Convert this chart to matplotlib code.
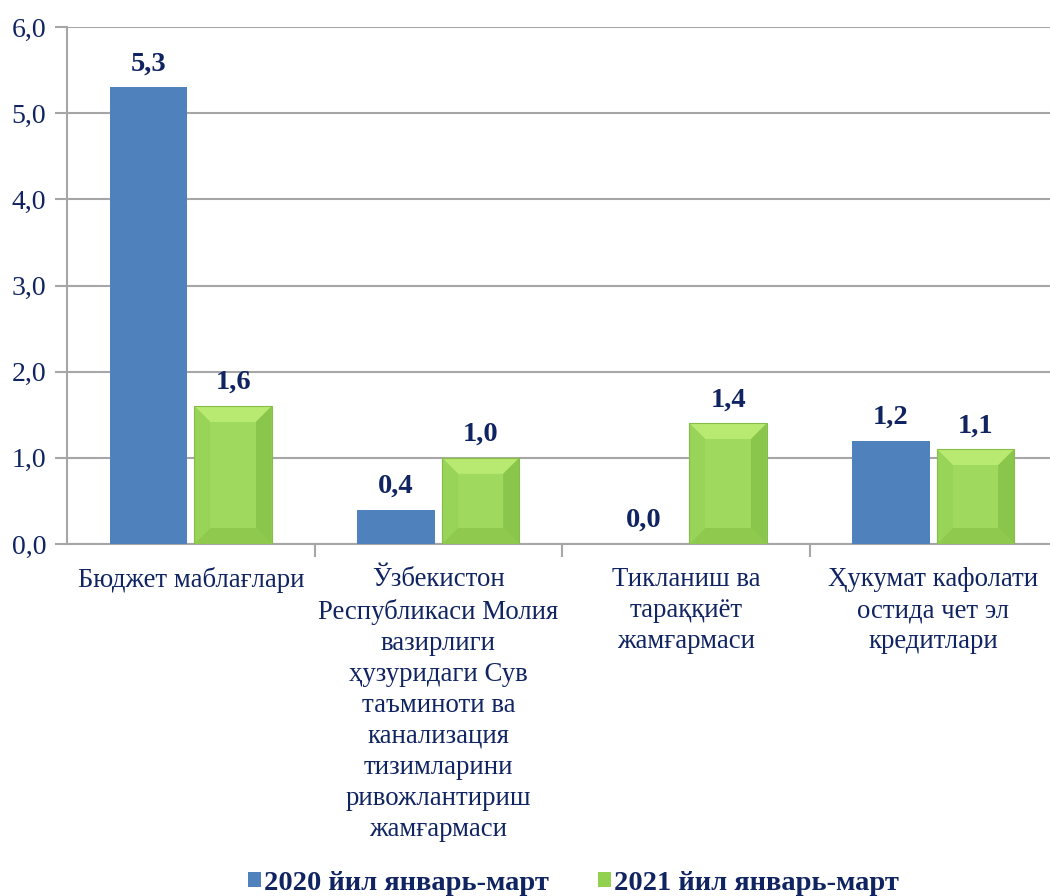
import matplotlib.pyplot as plt
from matplotlib.patches import Polygon, Patch

plt.rcParams['font.family'] = ['Liberation Serif', 'DejaVu Serif']

# Funding sources and amounts
categories = [
    'Бюджет маблағлари',
    'Ўзбекистон\nРеспубликаси Молия\nвазирлиги\nҳузуридаги Сув\nтаъминоти ва\nканализация\nтизимларини\nривожлантириш\nжамғармаси',
    'Тикланиш ва\nтараққиёт\nжамғармаси',
    'Ҳукумат кафолати\nостида чет эл\nкредитлари',
]
values_2020 = [5.3, 0.4, 0.0, 1.2]
values_2021 = [1.6, 1.0, 1.4, 1.1]
series_names = ['2020 йил январь-март', '2021 йил январь-март']
yticks = [0, 1, 2, 3, 4, 5, 6]

navy = '#102462'
blue = '#4F81BD'
green = '#9CD85B'
grid = '#A6A6A6'

fig = plt.figure(figsize=(10.5, 8.96), dpi=100)
ax = fig.add_axes([67 / 1050, 352 / 896, 990 / 1050, 517 / 896])

x = list(range(len(categories)))
w = 0.312
off = 0.171
b1 = ax.bar([i - off for i in x], values_2020, w, color=blue, zorder=3)
b2 = ax.bar([i + off for i in x], values_2021, w, color=green, zorder=3)

ax.set_xlim(-0.5, 3.5)
ax.set_ylim(0, 6)

# bevelled look for the green bars
fig.canvas.draw()
bbox = ax.get_window_extent()
dx = 16 / (bbox.width / 4.0)
dy = 16 / (bbox.height / 6.0)
for p in b2:
    x0, y0 = p.get_x(), p.get_y()
    x1, y1 = x0 + p.get_width(), y0 + p.get_height()
    ex = min(dx, p.get_width() / 2)
    ey = min(dy, p.get_height() / 2)
    faces = [
        ([(x0, y1), (x1, y1), (x1 - ex, y1 - ey), (x0 + ex, y1 - ey)], '#B8EA72'),
        ([(x0, y0), (x0, y1), (x0 + ex, y1 - ey), (x0 + ex, y0 + ey)], '#97D458'),
        ([(x1, y0), (x1, y1), (x1 - ex, y1 - ey), (x1 - ex, y0 + ey)], '#8AC64C'),
        ([(x0, y0), (x1, y0), (x1 - ex, y0 + ey), (x0 + ex, y0 + ey)], '#8FCA4F'),
        ([(x0 + ex, y0 + ey), (x1 - ex, y0 + ey), (x1 - ex, y1 - ey), (x0 + ex, y1 - ey)], '#9FDA5F'),
    ]
    for pts, c in faces:
        ax.add_patch(Polygon(pts, closed=True, facecolor=c, edgecolor='none', zorder=4))
    ax.add_patch(Polygon([(x0, y0), (x1, y0), (x1, y1), (x0, y1)], closed=True,
                         facecolor='none', edgecolor='#86BD48', linewidth=0.8, zorder=5))

# value labels
for bars, vals in ((b1, values_2020), (b2, values_2021)):
    for p, v in zip(bars, vals):
        ax.annotate(f'{v:.1f}'.replace('.', ','),
                    (p.get_x() + p.get_width() / 2, v),
                    xytext=(0, 11), textcoords='offset pixels',
                    ha='center', va='bottom', fontsize=20.5, fontweight='bold',
                    color=navy, zorder=6)

# axes styling
ax.set_yticks(yticks)
ax.set_yticklabels([f'{t:.1f}'.replace('.', ',') for t in yticks],
                   fontsize=20, color=navy)
ax.tick_params(axis='y', length=9, width=1.5, color=grid, pad=6)
ax.yaxis.grid(True, color=grid, linewidth=1.5, zorder=0)
ax.set_axisbelow(True)

ax.set_xticks([0.5, 1.5, 2.5])
ax.set_xticklabels([])
ax.tick_params(axis='x', length=9, width=1.5, color=grid)
for i, lab in enumerate(categories):
    ax.text(i, -0.27, lab, ha='center', va='top', fontsize=19.3,
            color=navy, linespacing=1.32)

for s in ('top', 'right'):
    ax.spines[s].set_visible(False)
for s in ('left', 'bottom'):
    ax.spines[s].set_color(grid)
    ax.spines[s].set_linewidth(1.5)

handles = [Patch(facecolor=blue), Patch(facecolor='#92D050')]
fig.legend(handles, series_names, loc='center', bbox_to_anchor=(0.546, 0.014),
           ncol=2, frameon=False, handlelength=0.45, handleheight=0.45,
           handletextpad=0.1, columnspacing=1.75,
           prop={'size': 20.5, 'weight': 'bold'}, labelcolor=navy)

fig.savefig('out.png', dpi=100)
